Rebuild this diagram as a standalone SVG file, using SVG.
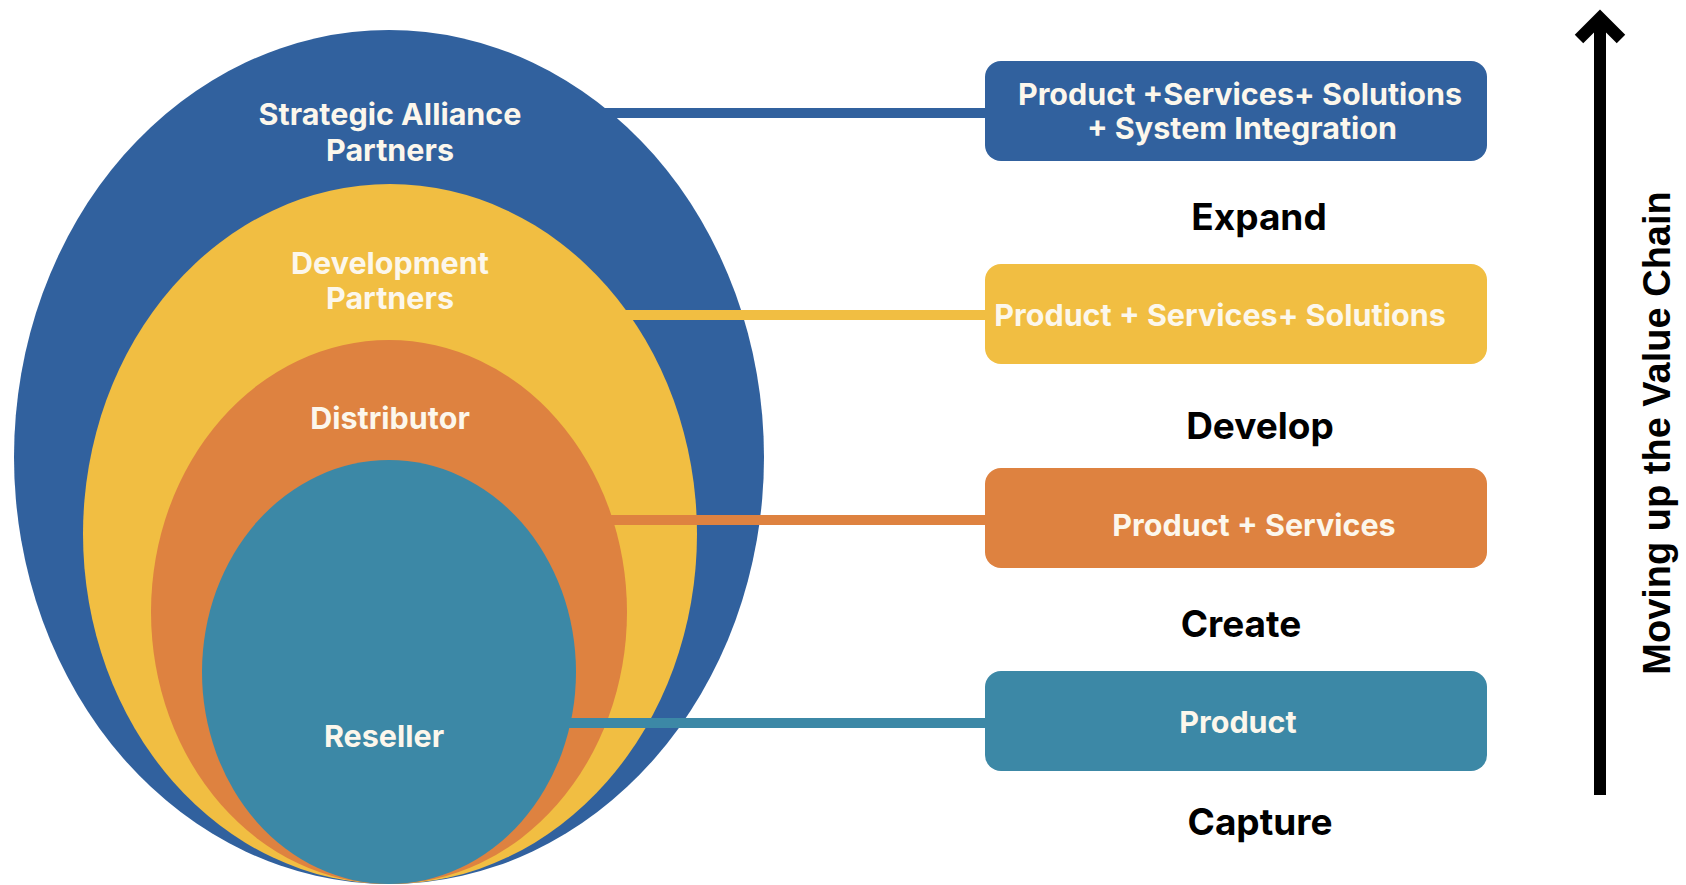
<svg xmlns="http://www.w3.org/2000/svg" width="1686" height="885" viewBox="0 0 1686 885">
<style>
.wt{font-family:Inter,"Liberation Sans",Arial,sans-serif;font-weight:700;font-size:30.5px;fill:#fcf7ec;text-anchor:middle}
.bt{font-family:Inter,"Liberation Sans",Arial,sans-serif;font-weight:700;font-size:37px;fill:#000;text-anchor:middle}
.conn{stroke-width:10;fill:none}
</style>
<rect width="1686" height="885" fill="#fff"/>
<g id="ellipses">
<g id="strategic"><ellipse cx="389" cy="457" rx="375" ry="427" fill="#31619e"/><text class="wt" x="390" y="125">Strategic Alliance</text><text class="wt" x="390" y="161">Partners</text></g>
<g id="development"><ellipse cx="390" cy="534" rx="307" ry="350" fill="#f1be42"/><text class="wt" x="390" y="274">Development</text><text class="wt" x="390" y="309">Partners</text></g>
<g id="distributor"><ellipse cx="389" cy="612" rx="238" ry="272" fill="#de8240"/><text class="wt" x="390" y="429">Distributor</text></g>
<g id="reseller"><ellipse cx="389" cy="672" rx="187" ry="212" fill="#3c88a6"/><text class="wt" x="384" y="747">Reseller</text></g>
</g>
<g id="connectors">
<line class="conn" x1="590" y1="113" x2="990" y2="113" stroke="#31619e"/>
<line class="conn" x1="600" y1="315" x2="990" y2="315" stroke="#f1be42"/>
<line class="conn" x1="560" y1="520" x2="990" y2="520" stroke="#de8240"/>
<line class="conn" x1="500" y1="723" x2="990" y2="723" stroke="#3c88a6"/>
</g>
<g id="box-expand"><rect x="985" y="61" width="502" height="100" rx="16" fill="#31619e"/><text class="wt" x="1240" y="105">Product +Services+ Solutions</text><text class="wt" x="1242" y="139">+ System Integration</text></g>
<g id="box-develop"><rect x="985" y="264" width="502" height="100" rx="16" fill="#f1be42"/><text class="wt" x="1220" y="326">Product + Services+ Solutions</text></g>
<g id="box-create"><rect x="985" y="468" width="502" height="100" rx="16" fill="#de8240"/><text class="wt" x="1254" y="536">Product + Services</text></g>
<g id="box-capture"><rect x="985" y="671" width="502" height="100" rx="16" fill="#3c88a6"/><text class="wt" x="1238" y="733">Product</text></g>
<g id="stage-labels">
<text class="bt" x="1259" y="230">Expand</text>
<text class="bt" x="1260" y="439">Develop</text>
<text class="bt" x="1241" y="637">Create</text>
<text class="bt" x="1260" y="835">Capture</text>
</g>
<g id="value-arrow">
<line x1="1600" y1="795" x2="1600" y2="20" stroke="#000" stroke-width="12"/>
<polyline points="1579,39 1600,18 1621,39" fill="none" stroke="#000" stroke-width="12" stroke-linejoin="miter"/>
<text transform="translate(1670,433) rotate(-90)" font-family="'Liberation Sans',Arial,sans-serif" font-weight="700" font-size="38" text-anchor="middle" fill="#000">Moving up the Value Chain</text>
</g>
</svg>
